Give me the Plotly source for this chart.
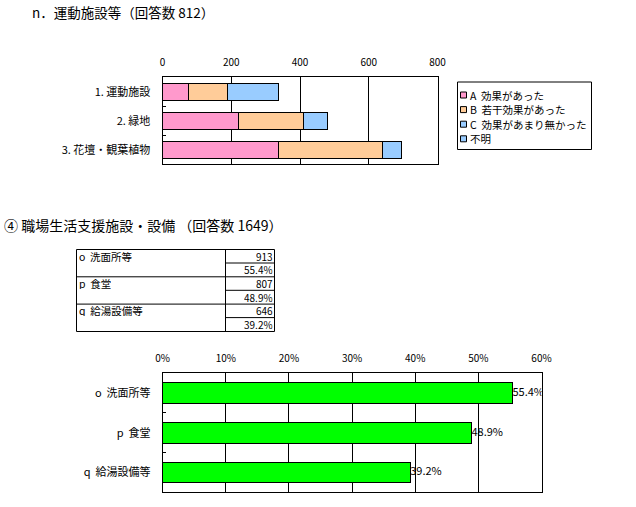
import plotly.graph_objects as go

W, H = 636, 507
FONT = "Noto Sans CJK JP"

# ---- data: chart n ----
title1 = "n．運動施設等（回答数 812）"
cats1 = ["1. 運動施設", "2. 緑地", "3. 花壇・観葉植物"]
series_names = ["A  効果があった", "B  若干効果があった", "C  効果があまり無かった", "不明"]
series_vals = [
    [77, 222, 336],
    [113, 187, 303],
    [146, 72, 56],
    [0, 0, 0],
]
series_colors = ["#FF99CC", "#FFCC99", "#99CCFF", "#99CCFF"]
ticks1 = [0, 200, 400, 600, 800]

# ---- data: chart ④ ----
title2 = "④ 職場生活支援施設・設備 （回答数 1649）"
cats2 = ["o  洗面所等", "p  食堂", "q  給湯設備等"]
table_labels = ["o  洗面所等", "p  食堂", "q  給湯設備等"]
counts2 = [913, 807, 646]
pcts2 = [55.4, 48.9, 39.2]
ticks2 = [0, 10, 20, 30, 40, 50, 60]


def px_x(x):
    return x / W


def px_y(y):
    return 1 - y / H


fig = go.Figure()

for name, vals, col in zip(series_names, series_vals, series_colors):
    fig.add_trace(go.Bar(
        x=vals, y=cats1, orientation="h", name=name, showlegend=False,
        marker=dict(color=col, line=dict(color="black", width=1)),
        width=0.575, xaxis="x", yaxis="y",
    ))

fig.add_trace(go.Bar(
    x=pcts2, y=cats2, orientation="h", showlegend=False,
    marker=dict(color="#00FF00", line=dict(color="black", width=1)),
    width=0.52, xaxis="x2", yaxis="y2",
))
fig.add_trace(go.Scatter(
    x=pcts2, y=cats2, mode="text", text=[f"{v}%" for v in pcts2],
    textposition="middle right", textfont=dict(size=11, color="black", family=FONT),
    showlegend=False, xaxis="x2", yaxis="y2", cliponaxis=True,
))

axis_common = dict(showline=True, mirror=True, linecolor="black", linewidth=1,
                   zeroline=False, tickfont=dict(size=10, color="black", family=FONT))
yaxis_common = dict(showline=True, mirror=True, linecolor="black", linewidth=1,
                    zeroline=False, autorange="reversed", showgrid=False,
                    ticks="inside", tickson="boundaries", ticklen=3, tickcolor="black",
                    ticklabelstandoff=9,
                    tickfont=dict(size=11, color="black", family=FONT))

fig.update_layout(
    template="none",
    width=W, height=H, autosize=False,
    margin=dict(l=0, r=0, t=0, b=0),
    paper_bgcolor="white", plot_bgcolor="white",
    barmode="stack",
    showlegend=False,
    font=dict(family=FONT, color="black", size=10),
    xaxis=dict(domain=[px_x(162.5), px_x(437.5)], range=[0, 800], tickvals=ticks1,
               side="top", anchor="y", showgrid=True, gridcolor="black", gridwidth=1,
               ticks="", ticklabelstandoff=6, **axis_common),
    yaxis=dict(domain=[px_y(164.3), px_y(77.3)], anchor="x", **yaxis_common),
    xaxis2=dict(domain=[px_x(162.7), px_x(541.5)], range=[0, 60], tickvals=ticks2,
                ticktext=[f"{t}%" for t in ticks2], side="top", anchor="y2",
                showgrid=True, gridcolor="black", gridwidth=1, ticks="",
                ticklabelstandoff=6, **axis_common),
    yaxis2=dict(domain=[px_y(492.3), px_y(373.3)], anchor="x2", **yaxis_common),
)

annotations = [
    dict(text=title1, x=px_x(31), y=px_y(12), xanchor="left", yanchor="middle",
         font=dict(size=13.5)),
    dict(text=title2, x=px_x(3), y=px_y(225), xanchor="left", yanchor="middle",
         font=dict(size=14)),
]
shapes = []

# ---- legend (drawn by hand to match compact Excel legend) ----
shapes.append(dict(type="rect", xref="paper", yref="paper", x0=px_x(457.5), x1=px_x(591.5),
                   y0=px_y(149.5), y1=px_y(82), line=dict(color="black", width=1),
                   fillcolor="white", layer="below"))
for i, (name, col) in enumerate(zip(series_names, series_colors)):
    cy = 95 + i * 14.6
    shapes.append(dict(type="rect", xref="paper", yref="paper", x0=px_x(460.5), x1=px_x(466.5),
                       y0=px_y(cy + 3), y1=px_y(cy - 3), fillcolor=col,
                       line=dict(color="black", width=1)))
    annotations.append(dict(text=name, x=px_x(469), y=px_y(cy), xanchor="left",
                            yanchor="middle", font=dict(size=10.5)))

# ---- table ----
tl, tr, tm = 76.5, 274.5, 225.5
shapes.append(dict(type="rect", xref="paper", yref="paper", x0=px_x(tl), x1=px_x(tr),
                   y0=px_y(331.5), y1=px_y(249.5), line=dict(color="black", width=1)))
shapes.append(dict(type="line", xref="paper", yref="paper", x0=px_x(tm), x1=px_x(tm),
                   y0=px_y(331.5), y1=px_y(249.5), line=dict(color="black", width=1)))
for i, (lab, cnt, pct) in enumerate(zip(table_labels, counts2, pcts2)):
    top = 249.5 + i * 27.3
    mid = top + 13.5
    bot = top + 27.3
    shapes.append(dict(type="line", xref="paper", yref="paper", x0=px_x(tm), x1=px_x(tr),
                       y0=px_y(mid), y1=px_y(mid), line=dict(color="black", width=1)))
    if i < 2:
        shapes.append(dict(type="line", xref="paper", yref="paper", x0=px_x(tl), x1=px_x(tr),
                           y0=px_y(bot), y1=px_y(bot), line=dict(color="black", width=1)))
    annotations.append(dict(text=lab, x=px_x(78), y=px_y(top + 6.8), xanchor="left",
                            yanchor="middle", height=11, font=dict(size=10.5)))
    annotations.append(dict(text=str(cnt), x=px_x(274), y=px_y(top + 6.8), xanchor="right",
                            yanchor="middle", height=11, font=dict(size=10)))
    annotations.append(dict(text=f"{pct}%", x=px_x(274), y=px_y(mid + 6.8), xanchor="right",
                            yanchor="middle", height=11, font=dict(size=10)))

for a in annotations:
    a.update(xref="paper", yref="paper", showarrow=False, borderpad=0)
    a["font"] = dict(a.get("font", {}))
    a["font"].setdefault("family", FONT)
    a["font"].setdefault("color", "black")

fig.update_layout(annotations=annotations, shapes=shapes)
fig.write_html(
    "out.html",
    config={"displayModeBar": False, "responsive": False},
    post_script="document.body.style.margin='0px';document.body.style.overflow='hidden';",
)
